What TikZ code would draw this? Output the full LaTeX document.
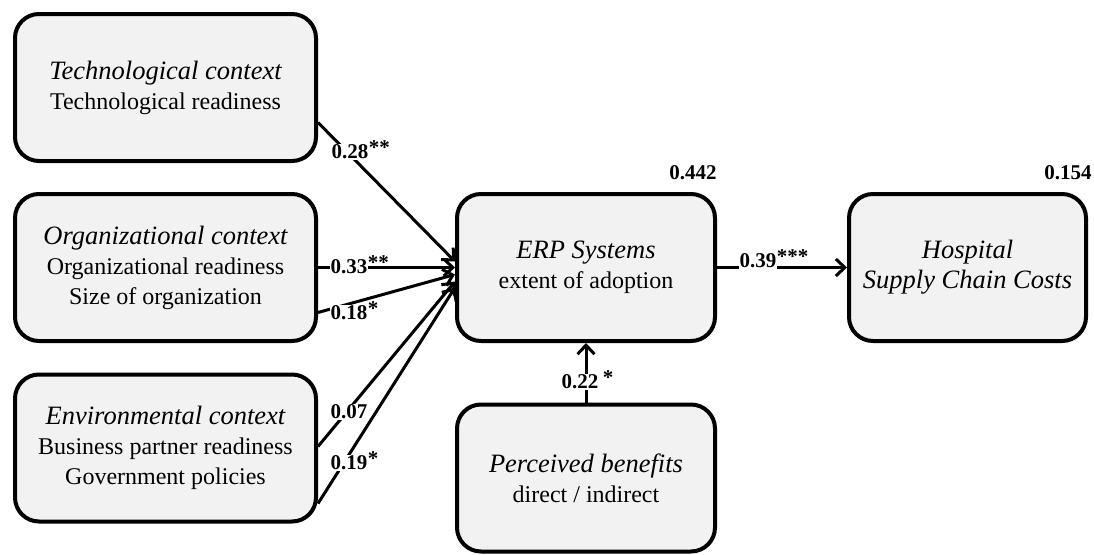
\documentclass[tikz,border=0pt]{standalone}
\usepackage{fontspec}
\setmainfont{Liberation Serif}
\usetikzlibrary{arrows.meta,calc}
\definecolor{boxfill}{HTML}{F2F2F2}
\newcommand{\ttl}[1]{{\fontsize{26.5}{30}\selectfont\itshape #1}}
\tikzset{
  ctx/.style={draw=black, line width=4pt, rounded corners=24pt, fill=boxfill,
    minimum width=301pt, minimum height=147pt, align=center, inner sep=0pt,
    font=\fontsize{24}{30}\selectfont},
  mid/.style={ctx, minimum width=258pt},
  hos/.style={ctx, minimum width=237pt},
  path/.style={line width=3pt, -{Straight Barb[length=9pt,width=17pt,line width=3pt]}},
  coef/.style={fill=white, inner sep=1pt, font=\fontsize{21}{22}\selectfont\bfseries},
  stars/.style={inner sep=0pt, anchor=north west, font=\fontsize{21}{22}\selectfont\bfseries},
  r2/.style={inner sep=0pt, font=\fontsize{21}{22}\selectfont\bfseries}
}
\begin{document}
\begin{tikzpicture}[x=1pt,y=-1pt]
\useasboundingbox (0,0) rectangle (1094,554);
\node[ctx] (tech) at (165.5,87.5) {\ttl{Technological context}\\Technological readiness};
\node[ctx] (org) at (165.5,267.5) {\ttl{Organizational context}\\Organizational readiness\\Size of organization};
\node[ctx] (env) at (165.5,448) {\ttl{Environmental context}\\Business partner readiness\\Government policies};
\node[mid] (erp) at (586,267.5) {\ttl{ERP Systems}\\extent of adoption};
\node[mid] (perc) at (586,478) {\ttl{Perceived benefits}\\direct / indirect};
\node[hos] (hosp) at (967.5,267.5) {\ttl{Hospital}\\\ttl{Supply Chain Costs}};
\node[r2] (r2erp) at (693,173) {0.442};
\node[r2] (r2hosp) at (1068,173) {0.154};
\coordinate (s1) at ([yshift=-35pt]tech.east);
\coordinate (s2) at (org.east);
\coordinate (s3) at ([yshift=-45pt]org.east);
\coordinate (s4) at ([yshift=-179pt]org.east);
\coordinate (s5) at ([yshift=-236pt]org.east);
\coordinate (t1) at ([yshift=6pt]erp.west);
\coordinate (t2) at (erp.west);
\coordinate (t3) at ([yshift=-7pt]erp.west);
\coordinate (t4) at ([yshift=-14pt]erp.west);
\coordinate (t5) at ([yshift=-20pt]erp.west);
\draw[path] (s1) -- (t1);
\draw[path] (s2) -- (t2);
\draw[path] (s3) -- (t3);
\draw[path] (s4) -- (t4);
\draw[path] (s5) -- (t5);
\draw[path] (erp.east) -- (hosp.west);
\draw[path] (perc.north) -- (erp.south);
\node[coef] (c1) at (350,152) {0.28};
\node[stars] (a1) at ([xshift=-1pt,yshift=3pt]c1.north east) {**};
\node[coef] (c2) at (349,267) {0.33};
\node[stars] (a2) at ([xshift=-1pt,yshift=3pt]c2.north east) {**};
\node[coef] (c3) at (349,313) {0.18};
\node[stars] (a3) at ([xshift=-1pt,yshift=3pt]c3.north east) {*};
\node[coef] (c4) at (349,412) {0.07};
\node[coef] (c5) at (349,463) {0.19};
\node[stars] (a5) at ([xshift=-1pt,yshift=3pt]c5.north east) {*};
\node[coef] (c6) at (758,261) {0.39};
\node[stars] (a6) at ([xshift=-1pt,yshift=3pt]c6.north east) {***};
\node[coef] (c7) at (580,382) {0.22};
\node[stars] (a7) at ([xshift=3pt,yshift=3pt]c7.north east) {*};
\end{tikzpicture}
\end{document}
